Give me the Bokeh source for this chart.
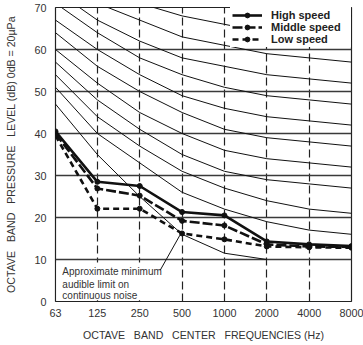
from bokeh.plotting import figure
from bokeh.models import (Range1d, FixedTicker, Legend, LegendItem, Label,
                          BoxAnnotation, Arrow)
from bokeh.embed import file_html
from bokeh.resources import INLINE

# ---------------- data ----------------
freqs = [63, 125, 250, 500, 1000, 2000, 4000, 8000]
freq_labels = ["63", "125", "250", "500", "1000", "2000", "4000", "8000"]
db_ticks = [0, 10, 20, 30, 40, 50, 60, 70]

nc_20 = [51, 40, 33, 26, 22, 19, 17, 16]
nc_25 = [54, 44, 37, 31, 27, 24, 22, 21]
nc_30 = [57, 48, 41, 35, 31, 29, 28, 27]
nc_35 = [60, 52, 45, 40, 36, 34, 33, 32]
nc_40 = [64, 56, 50, 45, 41, 39, 38, 37]
nc_45 = [67, 60, 54, 49, 46, 44, 43, 42]
nc_50 = [71, 64, 58, 54, 51, 49, 48, 47]
nc_55 = [74, 67, 62, 58, 56, 54, 53, 52]
nc_60 = [77, 71, 67, 63, 61, 59, 58, 57]
nc_65 = [80, 75, 71, 68, 66, 64, 63, 62]
nc_70 = [83, 79, 75, 72, 71, 70, 69, 68]
nc_curves = [nc_20, nc_25, nc_30, nc_35, nc_40, nc_45, nc_50, nc_55, nc_60, nc_65, nc_70]
nc_label_names = ["NC-60", "NC-50", "NC-40", "NC-30", "NC-20"]
nc_label_values = [57, 47, 37, 27, 16]

threshold_freqs = [63, 125, 250, 500, 1000, 2000]
threshold_db = [47, 35, 25, 16, 11.5, 10]

high_speed = [40.5, 28.5, 27.5, 21.3, 20.5, 14.3, 13.6, 13.2]
middle_speed = [40.0, 26.9, 25.2, 19.2, 18.1, 13.6, 13.1, 13.0]
low_speed = [39.5, 22.1, 22.1, 16.2, 14.8, 13.1, 12.9, 12.8]

note_lines = ["Approximate minimum", "audible limit on", "continuous noise"]
note_y = [7.1, 4.0, 1.4]

FONT = "Liberation Sans"
TXT = "#333333"
GAP = "\u00a0\u00a0\u00a0"

p = figure(width=363, height=345, x_axis_type="log",
           x_range=Range1d(63, 8000), y_range=Range1d(0, 70),
           output_backend="svg", toolbar_location=None,
           min_border_left=55, min_border_right=12,
           min_border_top=7, min_border_bottom=44)

p.background_fill_color = "white"
p.border_fill_color = "white"
p.outline_line_color = "#222222"
p.outline_line_width = 1.2
p.outline_line_alpha = 1

# axes
p.xaxis.ticker = FixedTicker(ticks=freqs)
p.xaxis.major_label_overrides = {f: l for f, l in zip(freqs, freq_labels)}
p.yaxis.ticker = FixedTicker(ticks=db_ticks)
for ax in (p.xaxis[0], p.yaxis[0]):
    ax.axis_line_color = None
    ax.major_tick_line_color = None
    ax.minor_tick_line_color = None
    ax.major_tick_out = 0
    ax.major_tick_in = 0
    ax.major_label_text_font = FONT
    ax.major_label_text_font_size = "10.8px"
    ax.major_label_text_color = TXT
    ax.axis_label_text_font = FONT
    ax.axis_label_text_font_size = "10.6px"
    ax.axis_label_text_font_style = "normal"
    ax.axis_label_text_color = TXT

p.xaxis.axis_label = "OCTAVE" + GAP + "BAND" + GAP + "CENTER" + GAP + "FREQUENCIES (Hz)"
p.yaxis.axis_label = ("OCTAVE" + GAP + "BAND" + GAP + "PRESSURE" + GAP +
                      "LEVEL (dB) 0dB = 20\u00b5Pa")
p.xaxis.major_label_standoff = 7
p.xaxis.axis_label_standoff = 9
p.yaxis.major_label_standoff = 9
p.yaxis.axis_label_standoff = 14

# grids
p.ygrid.ticker = FixedTicker(ticks=db_ticks[1:-1])
p.ygrid.grid_line_color = "#3a3a3a"
p.ygrid.grid_line_width = 1.4
p.xgrid.ticker = FixedTicker(ticks=freqs[1:-1])
p.xgrid.grid_line_color = "#222222"
p.xgrid.grid_line_width = 1.2
p.xgrid.grid_line_dash = "8 4"

# NC curves
for c in nc_curves:
    p.line(freqs, c, line_color="#111111", line_width=1.0)
p.line(threshold_freqs, threshold_db, line_color="#111111", line_width=1.0)

# speed curves
r_hl = p.line(freqs, high_speed, line_color="#111111", line_width=2.6)
r_hs = p.scatter(freqs, high_speed, size=5, color="#111111")
r_ml = p.line(freqs, middle_speed, line_color="#111111", line_width=2.6, line_dash="10 3")
r_ms = p.scatter(freqs, middle_speed, size=5, color="#111111")
r_ll = p.line(freqs, low_speed, line_color="#111111", line_width=2.6, line_dash="6 4")
r_ls = p.scatter(freqs, low_speed, size=5, color="#111111")

legend = Legend(items=[
    LegendItem(label="High speed", renderers=[r_hl, r_hs]),
    LegendItem(label="Middle speed", renderers=[r_ml, r_ms]),
    LegendItem(label="Low speed", renderers=[r_ll, r_ls]),
], location=(175, 254))
legend.label_text_font = FONT
legend.label_text_font_size = "11px"
legend.label_text_font_style = "bold"
legend.label_text_color = "#222222"
legend.glyph_width = 30
legend.glyph_height = 12
legend.label_height = 12
legend.label_width = 78
legend.label_standoff = 9
legend.spacing = 0
legend.padding = 2
legend.margin = 0
legend.border_line_alpha = 0
legend.background_fill_color = "white"
legend.background_fill_alpha = 1
p.add_layout(legend)

# annotation box
box = BoxAnnotation(left=64, right=381, bottom=0.3, top=9.3,
                    fill_color="white", fill_alpha=1, line_alpha=0)
p.add_layout(box)
for txt, yy in zip(note_lines, note_y):
    p.add_layout(Label(x=70.5, y=yy, text=txt, text_font=FONT, text_font_size="10px",
                       text_color=TXT, text_baseline="middle"))
p.add_layout(Arrow(end=None, x_start=349, y_start=7.4, x_end=483, y_end=15.8,
                   line_color="#111111", line_width=1))

# NC labels on the right (cut by the edge as in the original)
for name, v in zip(nc_label_names, nc_label_values):
    p.add_layout(Label(x=8000, y=v, x_offset=6, text=name, text_font=FONT,
                       text_font_size="10px", text_color=TXT, text_baseline="middle"))

open("out.html", "w").write(file_html(p, INLINE))
